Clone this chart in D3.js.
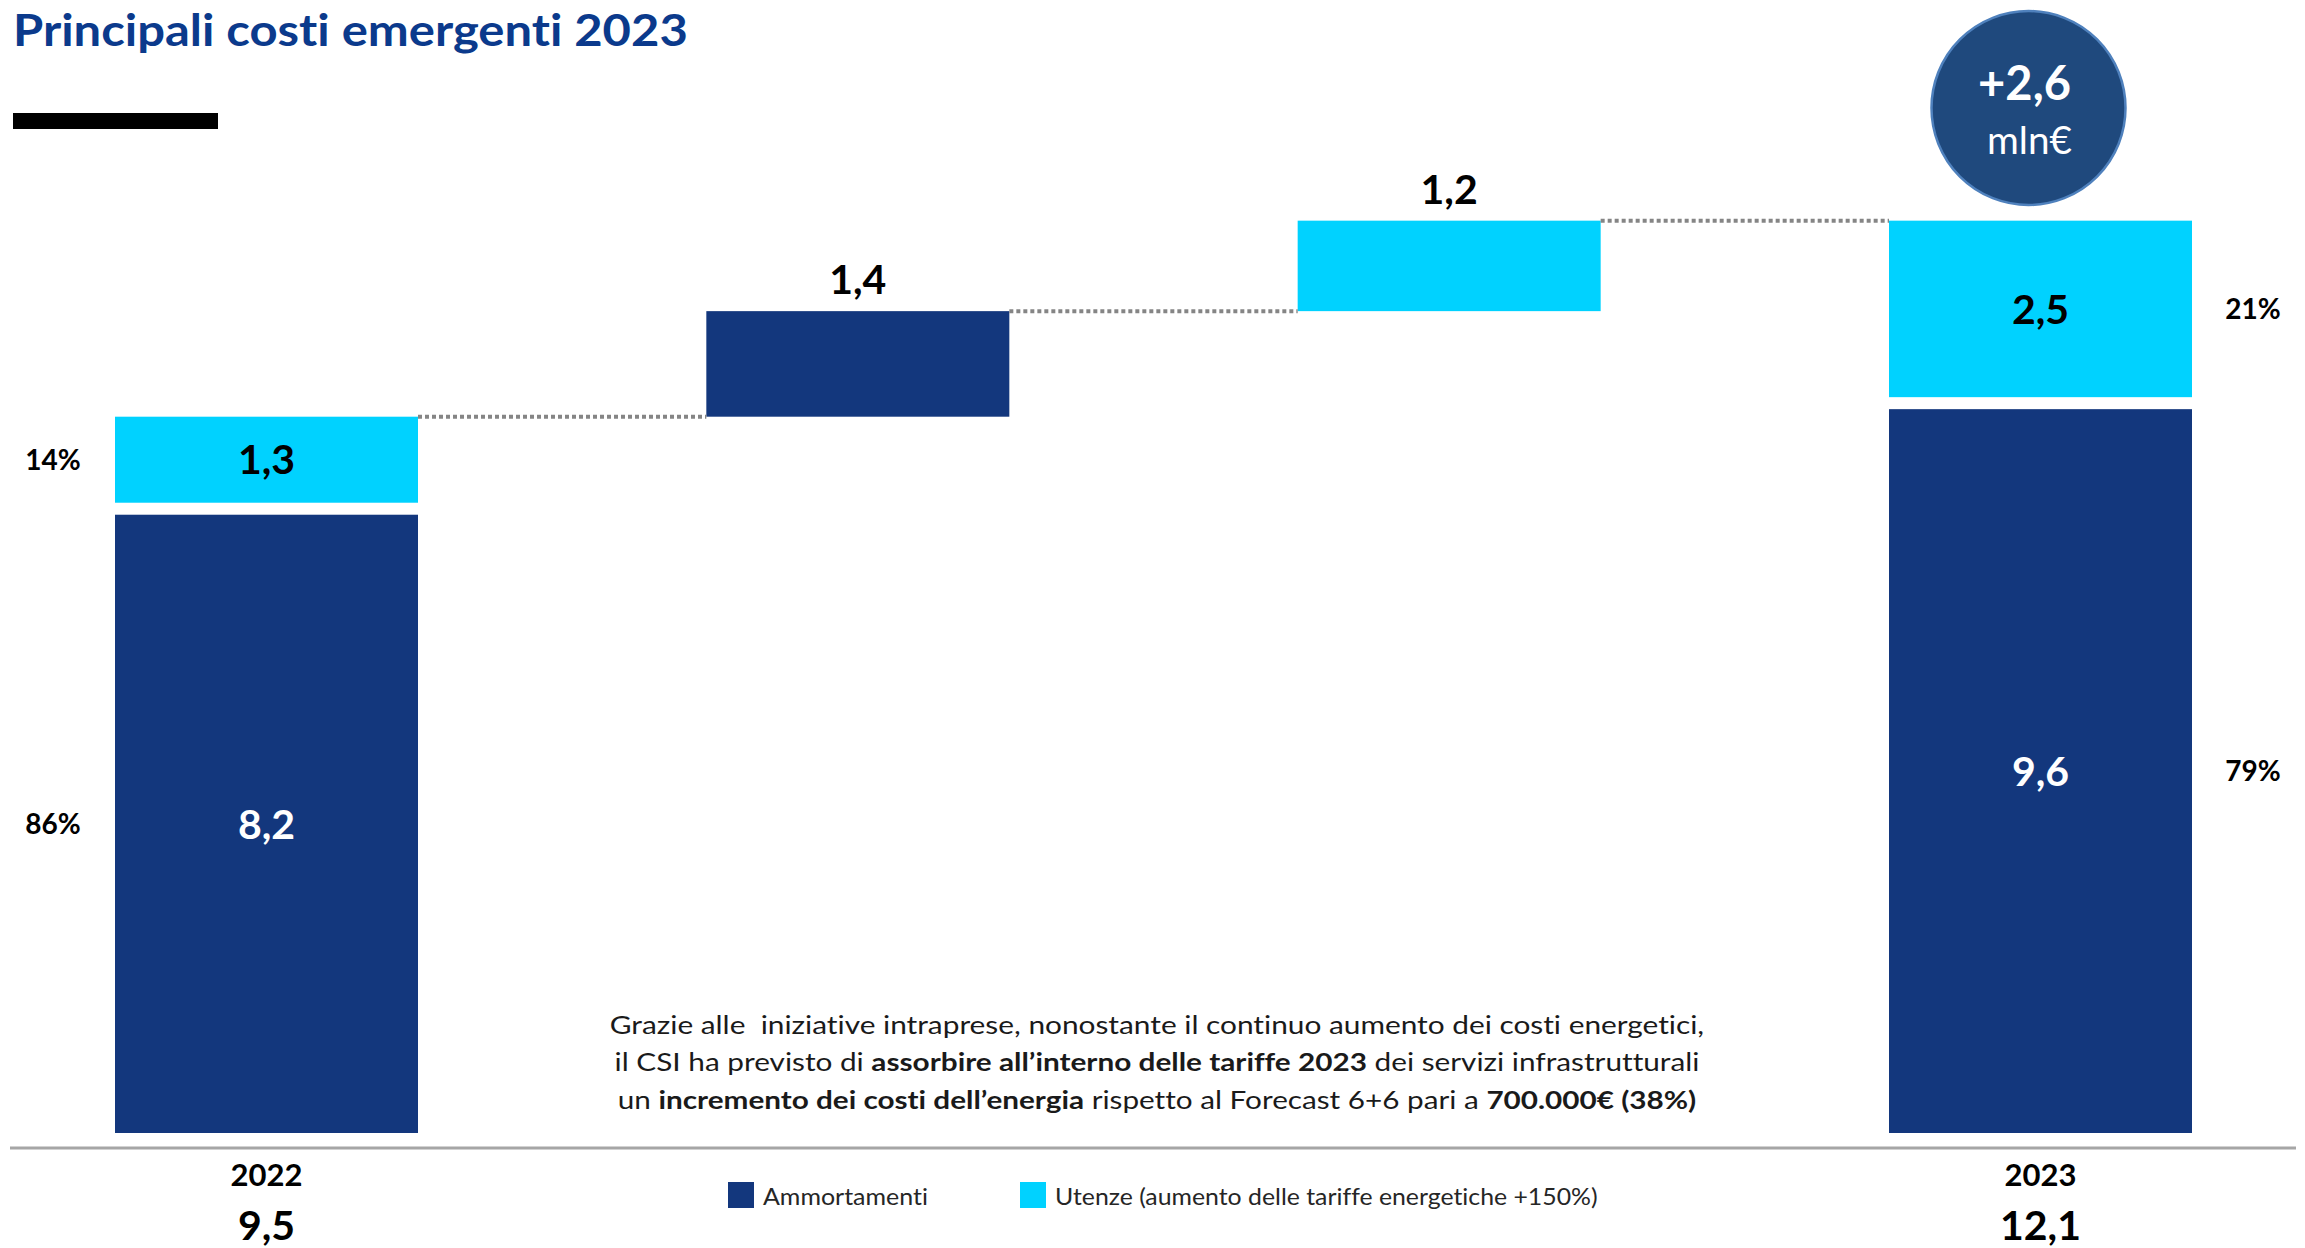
<!DOCTYPE html>
<html><head><meta charset="utf-8">
<script src="https://cdn.jsdelivr.net/npm/d3@7"></script>
<style>
html,body{margin:0;padding:0;background:#fff;}
svg{display:block;font-family:Lato,"Open Sans",sans-serif;font-variant-ligatures:none;font-feature-settings:"liga" 0;}
</style></head><body>
<svg id="chart" width="2305" height="1248"></svg>
<script>
// ---------------- data ----------------
const steps = ["2022", "Δ Ammortamenti", "Δ Utenze", "2023"];
const stepType = ["total", "delta", "delta", "total"];
const ammortamenti = [8.2, 1.4, 0, 9.6];
const utenze = [1.3, 0, 1.2, 2.5];
const shareAmmortamenti = ["86%", null, null, "79%"];
const shareUtenze = ["14%", null, null, "21%"];
const totalLabels = ["9,5", null, null, "12,1"];
const seriesNames = ["Ammortamenti", "Utenze (aumento delle tariffe energetiche +150%)"];
const badgeLines = ["+2,6", "mln€"];
const titleText = "Principali costi emergenti 2023";
const noteLines = [
  [["Grazie alle  iniziative intraprese, nonostante il continuo aumento dei costi energetici,", false]],
  [["il CSI ha previsto di ", false], ["assorbire all’interno delle tariffe 2023", true], [" dei servizi infrastrutturali", false]],
  [["un ", false], ["incremento dei costi dell’energia", true], [" rispetto al Forecast 6+6 pari a ", false], ["700.000€ (38%)", true]]
];

// ---------------- setup ----------------
const NAVY = "#13377d", CYAN = "#00d2ff";
const svg = d3.select("#chart");
const locale = d3.formatLocale({decimal: ",", thousands: ".", grouping: [3], currency: ["", "€"]});
const fmt = locale.format(".1f");

const x = d3.scaleBand().domain(steps).range([115, 2192]).paddingInner(0.4876).paddingOuter(0);
const y = d3.scaleLinear().domain([0, 13]).range([1133, 1133 - 13 * 75.4]);
const GAP = 12;
const bw = x.bandwidth();

function fitX(sel, target, ax) {
  const w = sel.node().getBBox().width;
  const s = target / w;
  sel.attr("transform", `translate(${ax},0) scale(${s},1) translate(${-ax},0)`);
}

// ---------------- segments ----------------
const segs = [];
const tops = [];
let running = 0;
steps.forEach((s, i) => {
  const base = stepType[i] === "total" ? 0 : running;
  const a = ammortamenti[i], u = utenze[i];
  if (a > 0) segs.push({i, series: 0, v0: base, v1: base + a, gap: false, value: a});
  if (u > 0) segs.push({i, series: 1, v0: base + a, v1: base + a + u, gap: a > 0, value: u});
  running = base + a + u;
  tops.push(running);
});

svg.append("g").selectAll("rect").data(segs).join("rect")
  .attr("x", d => x(steps[d.i]))
  .attr("width", bw)
  .attr("y", d => y(d.v1))
  .attr("height", d => (y(d.v0) - (d.gap ? GAP : 0)) - y(d.v1))
  .attr("fill", d => d.series === 0 ? NAVY : CYAN);

// connectors
const conn = d3.range(steps.length - 1);
svg.append("g").selectAll("line").data(conn).join("line")
  .attr("x1", i => x(steps[i]) + bw)
  .attr("x2", i => x(steps[i + 1]))
  .attr("y1", i => y(tops[i]))
  .attr("y2", i => y(tops[i]))
  .attr("stroke", "#858585").attr("stroke-width", 4).attr("stroke-dasharray", "4 3");

// value labels
const lab = svg.append("g").attr("font-weight", 700).attr("text-anchor", "middle");
segs.forEach(d => {
  const cx = x(steps[d.i]) + bw / 2;
  if (stepType[d.i] === "total") {
    const yc = ((y(d.v0) - (d.gap ? GAP : 0)) + y(d.v1)) / 2;
    lab.append("text").attr("x", cx).attr("y", yc).attr("dy", "0.36em")
      .attr("font-size", 41).attr("fill", d.series === 0 ? "#fff" : "#000").text(fmt(d.value));
    const share = d.series === 0 ? shareAmmortamenti[d.i] : shareUtenze[d.i];
    const sx = d.i === 0 ? x(steps[d.i]) - 62 : x(steps[d.i]) + bw + 61;
    lab.append("text").attr("x", sx).attr("y", yc).attr("dy", "0.36em")
      .attr("font-size", 28).attr("fill", "#000").text(share);
  } else {
    lab.append("text").attr("x", cx).attr("y", y(d.v1) - 17)
      .attr("font-size", 41).attr("fill", "#000").text(fmt(d.value));
  }
});

// axis line
const axisY = y(0) + 15;
svg.append("line").attr("x1", 10).attr("x2", 2296).attr("y1", axisY).attr("y2", axisY)
  .attr("stroke", "#a6a6a6").attr("stroke-width", 3);

const axis = d3.axisBottom(x).tickSize(0).tickFormat(d => stepType[steps.indexOf(d)] === "total" ? d : "");
const ag = svg.append("g").attr("transform", `translate(0,${axisY})`).call(axis);
ag.select(".domain").remove();
ag.selectAll("text").attr("y", 38).attr("dy", 0).attr("font-size", 31).attr("font-weight", 700)
  .attr("fill", "#000").attr("font-family", "Lato");

svg.append("g").attr("text-anchor", "middle").attr("font-weight", 700).attr("font-size", 41)
  .selectAll("text").data(steps.map((s, i) => ({s, t: totalLabels[i]})).filter(d => d.t)).join("text")
  .attr("x", d => x(d.s) + bw / 2).attr("y", axisY + 92).text(d => d.t);

// title
const title = svg.append("text").attr("x", 13).attr("y", 46).attr("font-size", 44).attr("font-weight", 700)
  .attr("fill", "#0b3a8c").text(titleText);
fitX(title, 675, 13);
svg.append("rect").attr("x", 13).attr("y", 113).attr("width", 205).attr("height", 16).attr("fill", "#000");

// badge
const bx = x(steps[3]) + bw / 2 - 12;
svg.append("circle").attr("cx", bx).attr("cy", 108).attr("r", 97)
  .attr("fill", "#1f497d").attr("stroke", "#4f81bd").attr("stroke-width", 2.5);
svg.append("text").attr("x", bx - 4).attr("y", 100).attr("text-anchor", "middle").attr("font-size", 47)
  .attr("font-weight", 700).attr("fill", "#fff").text(badgeLines[0]);
const ml = svg.append("text").attr("x", bx + 1).attr("y", 154).attr("text-anchor", "middle").attr("font-size", 39)
  .attr("fill", "#fff").text(badgeLines[1]);
fitX(ml, 85, bx + 1);

// note
const noteX = 1157, noteBase = [1034, 1071, 1109], noteW = [1095, 1085, 1079];
noteLines.forEach((parts, li) => {
  const t = svg.append("text").attr("x", noteX).attr("y", noteBase[li]).attr("text-anchor", "middle")
    .attr("font-size", 25).attr("fill", "#1a1a1a").style("white-space", "pre");
  parts.forEach(([s, b]) => t.append("tspan").attr("font-weight", b ? 700 : 400).text(s));
  fitX(t, noteW[li], noteX);
});

// legend
const legX = [728, 1020], legW = [165, 543];
seriesNames.forEach((n, i) => {
  svg.append("rect").attr("x", legX[i]).attr("y", 1182).attr("width", 26).attr("height", 26)
    .attr("fill", i === 0 ? NAVY : CYAN);
  const t = svg.append("text").attr("x", legX[i] + 35).attr("y", 1196).attr("dy", "0.36em")
    .attr("font-size", 24).attr("fill", "#262626").text(n);
  fitX(t, legW[i], legX[i] + 35);
});
</script>
</body></html>
